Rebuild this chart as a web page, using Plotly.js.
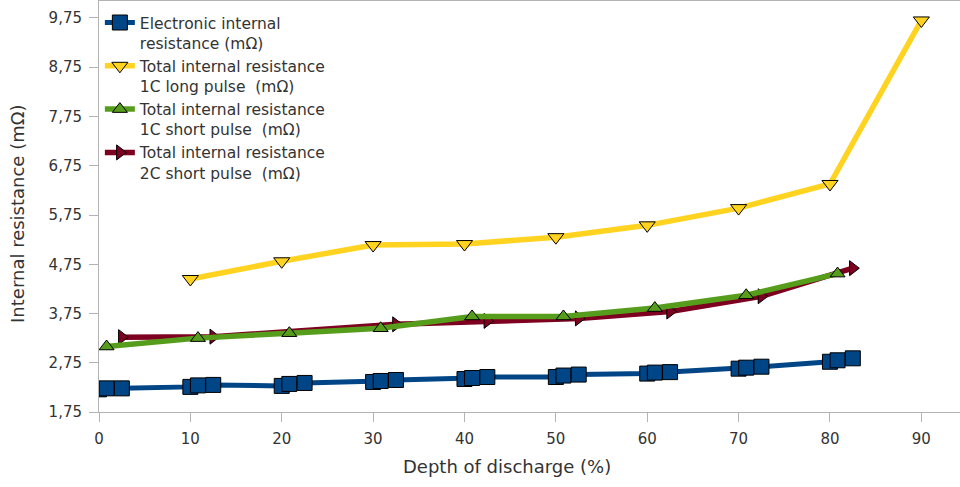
<!DOCTYPE html>
<html>
<head>
<meta charset="utf-8">
<script src="https://cdn.plot.ly/plotly-3.0.1.min.js"></script>
<style>
  html, body { margin: 0; padding: 0; background: #ffffff; }
  #chart { width: 960px; height: 487px; }
</style>
</head>
<body>
<div id="chart"></div>
<script>
// Depth of discharge (%) for each measurement series
const electronicDoD = [0, 0.83, 2.5, 10, 10.83, 12.5, 20, 20.83, 22.5, 30, 30.83, 32.5,
                       40, 40.83, 42.5, 50, 50.83, 52.5, 60, 60.83, 62.5, 70, 70.83, 72.5,
                       80, 80.83, 82.5];
const longPulseDoD = [10, 20, 30, 40, 50, 60, 70, 80, 90];
const shortPulse1CDoD = [0.83, 10.83, 20.83, 30.83, 40.83, 50.83, 60.83, 70.83, 80.83];
const shortPulse2CDoD = [2.5, 12.5, 22.5, 32.5, 42.5, 52.5, 62.5, 72.5, 82.5];

// Internal resistance values (mΩ)
const electronicR = [2.21, 2.23, 2.23, 2.26, 2.29, 2.30, 2.28, 2.32, 2.34, 2.36, 2.38, 2.40,
                     2.42, 2.44, 2.46, 2.46, 2.49, 2.51, 2.53, 2.55, 2.56, 2.63, 2.65, 2.67,
                     2.77, 2.80, 2.84];
const longPulse1CR = [4.45, 4.81, 5.14, 5.16, 5.30, 5.54, 5.89, 6.38, 9.70];
const shortPulse1CR = [3.08, 3.25, 3.35, 3.45, 3.69, 3.69, 3.86, 4.12, 4.56];
const shortPulse2CR = [3.27, 3.28, null, 3.53, 3.60, 3.65, 3.79, 4.10, 4.67];

// Series names and axis titles
const seriesNames = [
  'Electronic internal<br>resistance (mΩ)',
  'Total internal resistance<br>1C long pulse \u00a0(mΩ)',
  'Total internal resistance<br>1C short pulse \u00a0(mΩ)',
  'Total internal resistance<br>2C short pulse \u00a0(mΩ)'
];
const xTitle = 'Depth of discharge (%)';
const yTitle = 'Internal resistance (mΩ)';

const FONT = 'DejaVu Sans, Verdana, sans-serif';
const TEXT = '#333333';
const outline = { color: '#000000', width: 1 };

const traces = [
  {
    x: electronicDoD, y: electronicR, name: seriesNames[0], legendrank: 1,
    mode: 'lines+markers', type: 'scatter',
    line: { color: '#004586', width: 5 },
    marker: { symbol: 'square', size: 15, color: '#004586', line: outline }
  },
  {
    x: longPulseDoD, y: longPulse1CR, name: seriesNames[1], legendrank: 2,
    mode: 'lines+markers', type: 'scatter',
    line: { color: '#ffd320', width: 5.5 },
    marker: { symbol: 'triangle-down', size: 14, color: '#ffd320', line: outline }
  },
  {
    x: shortPulse2CDoD, y: shortPulse2CR, name: seriesNames[3], legendrank: 4,
    mode: 'lines+markers', type: 'scatter', connectgaps: true,
    line: { color: '#7e0021', width: 5.5 },
    marker: { symbol: 'triangle-right', size: 13, color: '#7e0021', line: outline }
  },
  {
    x: shortPulse1CDoD, y: shortPulse1CR, name: seriesNames[2], legendrank: 3,
    mode: 'lines+markers', type: 'scatter',
    line: { color: '#579d1c', width: 5.5 },
    marker: { symbol: 'triangle-up', size: 13, color: '#579d1c', line: outline }
  }
];

const layout = {
  width: 960, height: 487,
  margin: { l: 99, r: 0, t: 1, b: 75, pad: 0 },
  paper_bgcolor: '#ffffff', plot_bgcolor: '#ffffff',
  separators: ',.',
  font: { family: FONT, size: 15, color: TEXT },
  showlegend: true,
  legend: {
    x: 0.001, y: 0.988, xanchor: 'left', yanchor: 'top',
    bgcolor: 'rgba(0,0,0,0)', borderwidth: 0,
    font: { family: FONT, size: 15.5, color: TEXT },
    valign: 'top', itemwidth: 30, traceorder: 'normal'
  },
  xaxis: {
    range: [0, 94.23], dtick: 10, tick0: 0,
    showgrid: false, zeroline: false,
    showline: true, mirror: true, linecolor: '#b3b3b3', linewidth: 1,
    ticks: 'outside', ticklen: 9, tickcolor: '#b3b3b3', tickwidth: 1,
    ticklabelstandoff: 4,
    tickfont: { family: FONT, size: 15, color: TEXT },
    automargin: false
  },
  yaxis: {
    range: [1.75, 10.095], dtick: 1, tick0: 1.75, tickformat: '.2f',
    showgrid: false, zeroline: false,
    showline: true, linecolor: '#b3b3b3', linewidth: 1,
    ticks: 'outside', ticklen: 9, tickcolor: '#b3b3b3', tickwidth: 1,
    ticklabelstandoff: 4,
    tickfont: { family: FONT, size: 15, color: TEXT },
    automargin: false
  },
  annotations: [
    {
      text: xTitle, xref: 'paper', yref: 'paper', x: 0.4733, y: -0.1338,
      xanchor: 'center', yanchor: 'middle', showarrow: false,
      font: { family: FONT, size: 18, color: TEXT }
    },
    {
      text: yTitle, xref: 'paper', yref: 'paper', x: -0.0941, y: 0.4818,
      xanchor: 'center', yanchor: 'middle', showarrow: false, textangle: -90,
      font: { family: FONT, size: 18, color: TEXT }
    }
  ]
};

Plotly.newPlot('chart', traces, layout, { displayModeBar: false, staticPlot: true });
</script>
</body>
</html>
